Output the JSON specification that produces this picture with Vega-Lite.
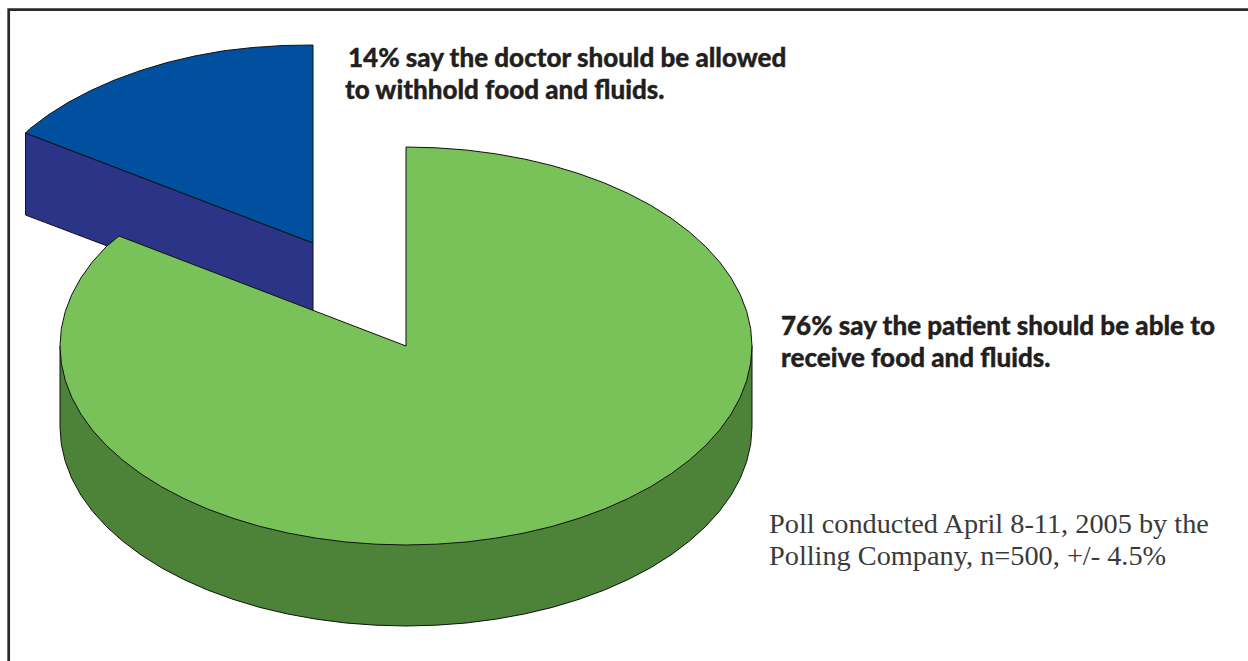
{"$schema":"https://vega.github.io/schema/vega-lite/v6.json","width":1248,"height":661,"padding":0,"autosize":"none","background":"white","config":{"view":{"stroke":null}},
"datasets":{
"darkblue":[{"s":0,"x":25.5,"y":133},{"s":1,"x":313,"y":243},{"s":2,"x":313,"y":324},{"s":3,"x":25.5,"y":215},{"s":4,"x":25.5,"y":133}],
"blue":[{"s":0,"x":25.5,"y":133},{"s":1,"x":29.6,"y":128.9},{"s":2,"x":48,"y":115.1},{"s":3,"x":68.3,"y":102.3},{"s":4,"x":90.6,"y":90.6},{"s":5,"x":114.5,"y":80},{"s":6,"x":140,"y":70.7},{"s":7,"x":166.8,"y":62.6},{"s":8,"x":194.7,"y":56},{"s":9,"x":223.4,"y":50.8},{"s":10,"x":252.9,"y":47.5},{"s":11,"x":282.8,"y":45.5},{"s":12,"x":313,"y":45},{"s":13,"x":313,"y":243},{"s":14,"x":25.5,"y":133}],
"darkgreen":[{"s":0,"x":752,"y":346},{"s":1,"x":752,"y":427},{"s":2,"x":750.7,"y":444.3},{"s":3,"x":746.7,"y":461.6},{"s":4,"x":740.2,"y":478.5},{"s":5,"x":731.1,"y":495.1},{"s":6,"x":719.6,"y":511.1},{"s":7,"x":705.6,"y":526.5},{"s":8,"x":689.4,"y":541.1},{"s":9,"x":671,"y":554.9},{"s":10,"x":650.7,"y":567.7},{"s":11,"x":628.4,"y":579.4},{"s":12,"x":604.5,"y":590},{"s":13,"x":579,"y":599.3},{"s":14,"x":552.2,"y":607.4},{"s":15,"x":524.3,"y":614},{"s":16,"x":495.6,"y":619.2},{"s":17,"x":466.1,"y":623},{"s":18,"x":436.2,"y":625.2},{"s":19,"x":406,"y":626},{"s":20,"x":375.8,"y":625.2},{"s":21,"x":345.9,"y":623},{"s":22,"x":316.4,"y":619.2},{"s":23,"x":287.7,"y":614},{"s":24,"x":259.8,"y":607.4},{"s":25,"x":233,"y":599.3},{"s":26,"x":207.5,"y":590},{"s":27,"x":183.6,"y":579.4},{"s":28,"x":161.3,"y":567.7},{"s":29,"x":141,"y":554.9},{"s":30,"x":122.6,"y":541.1},{"s":31,"x":106.4,"y":526.5},{"s":32,"x":92.4,"y":511.1},{"s":33,"x":80.9,"y":495.1},{"s":34,"x":71.8,"y":478.5},{"s":35,"x":65.3,"y":461.6},{"s":36,"x":61.3,"y":444.3},{"s":37,"x":60,"y":427},{"s":38,"x":60,"y":346},{"s":39,"x":752,"y":346}],
"green":[{"s":0,"x":406,"y":147},{"s":1,"x":436.2,"y":147.8},{"s":2,"x":466.1,"y":150},{"s":3,"x":495.6,"y":153.8},{"s":4,"x":524.3,"y":159},{"s":5,"x":552.2,"y":165.6},{"s":6,"x":579,"y":173.7},{"s":7,"x":604.5,"y":183},{"s":8,"x":628.4,"y":193.6},{"s":9,"x":650.7,"y":205.3},{"s":10,"x":671,"y":218.1},{"s":11,"x":689.4,"y":231.9},{"s":12,"x":705.6,"y":246.5},{"s":13,"x":719.6,"y":261.9},{"s":14,"x":731.1,"y":277.9},{"s":15,"x":740.2,"y":294.5},{"s":16,"x":746.7,"y":311.4},{"s":17,"x":750.7,"y":328.7},{"s":18,"x":752,"y":346},{"s":19,"x":750.7,"y":363.3},{"s":20,"x":746.7,"y":380.6},{"s":21,"x":740.2,"y":397.5},{"s":22,"x":731.1,"y":414.1},{"s":23,"x":719.6,"y":430.1},{"s":24,"x":705.6,"y":445.5},{"s":25,"x":689.4,"y":460.1},{"s":26,"x":671,"y":473.9},{"s":27,"x":650.7,"y":486.7},{"s":28,"x":628.4,"y":498.4},{"s":29,"x":604.5,"y":509},{"s":30,"x":579,"y":518.3},{"s":31,"x":552.2,"y":526.4},{"s":32,"x":524.3,"y":533},{"s":33,"x":495.6,"y":538.2},{"s":34,"x":466.1,"y":542},{"s":35,"x":436.2,"y":544.2},{"s":36,"x":406,"y":545},{"s":37,"x":375.8,"y":544.2},{"s":38,"x":345.9,"y":542},{"s":39,"x":316.4,"y":538.2},{"s":40,"x":287.7,"y":533},{"s":41,"x":259.8,"y":526.4},{"s":42,"x":233,"y":518.3},{"s":43,"x":207.5,"y":509},{"s":44,"x":183.6,"y":498.4},{"s":45,"x":161.3,"y":486.7},{"s":46,"x":141,"y":473.9},{"s":47,"x":122.6,"y":460.1},{"s":48,"x":106.4,"y":445.5},{"s":49,"x":92.4,"y":430.1},{"s":50,"x":80.9,"y":414.1},{"s":51,"x":71.8,"y":397.5},{"s":52,"x":65.3,"y":380.6},{"s":53,"x":61.3,"y":363.3},{"s":54,"x":60,"y":346},{"s":55,"x":61.3,"y":328.7},{"s":56,"x":65.3,"y":311.4},{"s":57,"x":71.8,"y":294.5},{"s":58,"x":80.9,"y":277.9},{"s":59,"x":92.4,"y":261.9},{"s":60,"x":106.4,"y":246.5},{"s":61,"x":119,"y":236},{"s":62,"x":406,"y":346},{"s":63,"x":406,"y":147}],
"frame":[{"s":0,"x":1248,"y":9.7},{"s":1,"x":8.7,"y":9.7},{"s":2,"x":8.7,"y":661}],
"bold":[{"x":348,"y":67,"t":"14% say the doctor should be allowed"},{"x":345,"y":99,"t":"to withhold food and fluids."},{"x":781,"y":335,"t":"76% say the patient should be able to"},{"x":781,"y":367,"t":"receive food and fluids."}],
"serif":[{"x":769,"y":533,"t":"Poll conducted April 8-11, 2005 by the"},{"x":769,"y":565,"t":"Polling Company, n=500, +/- 4.5%"}]
},
"encoding":{"x":{"field":"x","type":"quantitative","scale":{"domain":[0,1248],"nice":false,"zero":false},"axis":null},"y":{"field":"y","type":"quantitative","scale":{"domain":[661,0],"nice":false,"zero":false},"axis":null}},
"layer":[
{"data":{"name":"darkblue"},"mark":{"type":"line","fill":"#2b3486","stroke":"#111","strokeWidth":1},"encoding":{"order":{"field":"s","type":"quantitative"}}},
{"data":{"name":"blue"},"mark":{"type":"line","fill":"#00509f","stroke":"#111","strokeWidth":1},"encoding":{"order":{"field":"s","type":"quantitative"}}},
{"data":{"name":"darkgreen"},"mark":{"type":"line","fill":"#4c8338","stroke":"#111","strokeWidth":1},"encoding":{"order":{"field":"s","type":"quantitative"}}},
{"data":{"name":"green"},"mark":{"type":"line","fill":"#79c159","stroke":"#111","strokeWidth":1},"encoding":{"order":{"field":"s","type":"quantitative"}}},
{"data":{"name":"frame"},"mark":{"type":"line","stroke":"#2a2a2a","strokeWidth":2.7},"encoding":{"order":{"field":"s","type":"quantitative"}}},
{"data":{"name":"bold"},"mark":{"type":"text","align":"left","baseline":"alphabetic","font":"Lato","fontWeight":900,"fontSize":26,"fill":"#231f20","stroke":"#231f20","strokeWidth":0.35},"encoding":{"text":{"field":"t"}}},
{"data":{"name":"serif"},"mark":{"type":"text","align":"left","baseline":"alphabetic","font":"Liberation Serif","fontSize":28.3,"color":"#3a3a3a"},"encoding":{"text":{"field":"t"}}}
]}
